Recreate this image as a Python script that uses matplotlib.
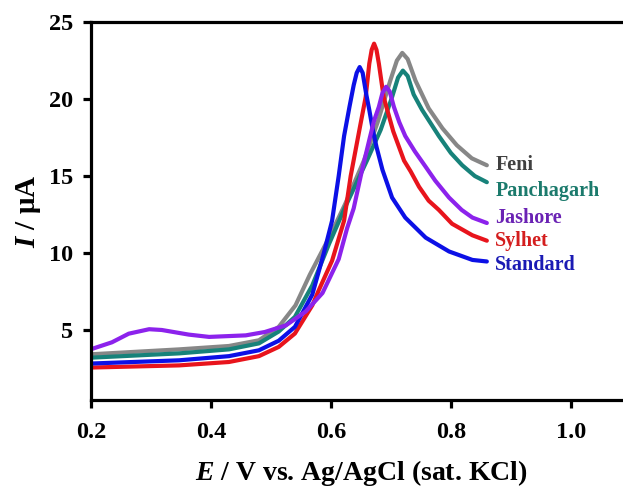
import matplotlib
matplotlib.use("Agg")
import matplotlib.pyplot as plt

plt.rcParams['font.family'] = ['Liberation Serif', 'DejaVu Serif']
plt.rcParams['font.weight'] = 'bold'
plt.rcParams['mathtext.fontset'] = 'custom'
plt.rcParams['mathtext.it'] = 'Liberation Serif:italic:bold'
plt.rcParams['mathtext.rm'] = 'Liberation Serif:bold'

# --- data ---
standard_x = [0.20, 0.347, 0.43, 0.48, 0.513, 0.54, 0.569, 0.588, 0.602, 0.613, 0.622, 0.631,
              0.638, 0.643, 0.648, 0.653, 0.659, 0.664, 0.670, 0.676, 0.686, 0.702, 0.724,
              0.758, 0.797, 0.836, 0.86]
standard_y = [2.82, 3.03, 3.30, 3.68, 4.30, 5.20, 7.30, 9.96, 12.1, 15.0, 17.6, 19.5,
              20.9, 21.7, 22.08, 21.7, 20.3, 19.3, 17.97, 16.9, 15.4, 13.6, 12.3,
              11.0, 10.1, 9.55, 9.45]

sylhet_x = [0.20, 0.347, 0.43, 0.48, 0.513, 0.54, 0.569, 0.58, 0.602, 0.622, 0.633, 0.649,
            0.658, 0.664, 0.668, 0.672, 0.676, 0.680, 0.688, 0.704, 0.722, 0.733, 0.747,
            0.763, 0.78, 0.802, 0.836, 0.86]
sylhet_y = [2.56, 2.70, 2.92, 3.30, 3.90, 4.77, 6.60, 7.60, 9.50, 12.1, 15.0, 18.3,
            20.13, 22.3, 23.2, 23.6, 23.2, 22.3, 20.13, 17.9, 16.0, 15.3, 14.3,
            13.4, 12.8, 11.9, 11.15, 10.8]

jashore_x = [0.20, 0.235, 0.263, 0.297, 0.318, 0.363, 0.397, 0.458, 0.49, 0.525, 0.558, 0.586,
             0.613, 0.627, 0.638, 0.652, 0.665, 0.672, 0.680, 0.686, 0.692, 0.698, 0.705,
             0.714, 0.724, 0.740, 0.758, 0.774, 0.797, 0.818, 0.836, 0.86]
jashore_y = [3.75, 4.20, 4.76, 5.05, 5.00, 4.70, 4.55, 4.65, 4.87, 5.30, 6.20, 7.40,
             9.60, 11.6, 12.9, 15.4, 17.5, 18.6, 19.5, 20.4, 20.8, 20.5, 19.5,
             18.5, 17.6, 16.6, 15.6, 14.7, 13.6, 12.8, 12.3, 11.95]

feni_x = [0.20, 0.347, 0.43, 0.48, 0.513, 0.541, 0.565, 0.597, 0.624, 0.655, 0.678, 0.699,
          0.710, 0.719, 0.728, 0.741, 0.763, 0.786, 0.81, 0.835, 0.86]
feni_y = [3.42, 3.74, 3.96, 4.33, 5.20, 6.60, 8.60, 11.0, 13.2, 16.0, 18.5, 21.2,
          22.5, 23.0, 22.6, 21.2, 19.4, 18.1, 17.0, 16.15, 15.7]

panch_x = [0.20, 0.347, 0.43, 0.48, 0.513, 0.54, 0.569, 0.597, 0.624, 0.66, 0.683, 0.702,
           0.712, 0.72, 0.728, 0.738, 0.752, 0.78, 0.80, 0.819, 0.84, 0.86]
panch_y = [3.20, 3.48, 3.74, 4.13, 4.90, 5.85, 7.90, 10.6, 13.0, 16.0, 18.0, 20.13,
           21.4, 21.85, 21.5, 20.3, 19.3, 17.6, 16.5, 15.7, 15.0, 14.6]

names = ["Feni", "Panchagarh", "Jashore", "Sylhet", "Standard"]
line_colors = ["#878787", "#17827a", "#8c22ec", "#e8141c", "#0c10e6"]
text_colors = ["#404040", "#1b7a6c", "#6a22b4", "#d41e1e", "#1a1ab4"]
label_y = [15.75, 14.05, 12.3, 10.8, 9.25]
xs = [feni_x, panch_x, jashore_x, sylhet_x, standard_x]
ys = [feni_y, panch_y, jashore_y, sylhet_y, standard_y]

x_ticks = [0.2, 0.4, 0.6, 0.8, 1.0]
x_ticklabels = ["0.2", "0.4", "0.6", "0.8", "1.0"]
y_ticks = [5, 10, 15, 20, 25]

fig = plt.figure(figsize=(6.23, 4.87), dpi=100)
ax = fig.add_axes([0.146, 0.1786, 0.854, 0.776])

order = [0, 1, 3, 4, 2]
for i in order:
    ax.plot(xs[i], ys[i], color=line_colors[i], lw=3.0, solid_capstyle='round',
            solid_joinstyle='round')

for i in range(5):
    ax.text(0.874, label_y[i], names[i], color=text_colors[i], fontsize=14.5,
            fontweight='bold', va='center', ha='left')

ax.set_xlim(0.2, 1.087)
ax.set_ylim(0.45, 25)
ax.set_xticks(x_ticks)
ax.set_xticklabels(x_ticklabels)
ax.set_yticks(y_ticks)
for s in ['left', 'bottom', 'top']:
    ax.spines[s].set_linewidth(2.3)
ax.spines['right'].set_visible(False)
ax.tick_params(axis='both', direction='out', length=6, width=2.3, labelsize=17.5, pad=7)
ax.tick_params(axis='x', pad=10)
for lab in ax.get_xticklabels() + ax.get_yticklabels():
    lab.set_fontweight('bold')

ax.set_xlabel(r"$\mathit{E}$ / V vs. Ag/AgCl (sat. KCl)", fontsize=20, fontweight='bold')
ax.set_ylabel(r"$\mathit{I}$ / μA", fontsize=21, fontweight='bold')
ax.xaxis.label.set_va('center')
ax.yaxis.label.set_va('center')
ax.xaxis.set_label_coords(0.509, -0.193)
ax.yaxis.set_label_coords(-0.118, 0.5)

fig.savefig("out.png", dpi=100)
